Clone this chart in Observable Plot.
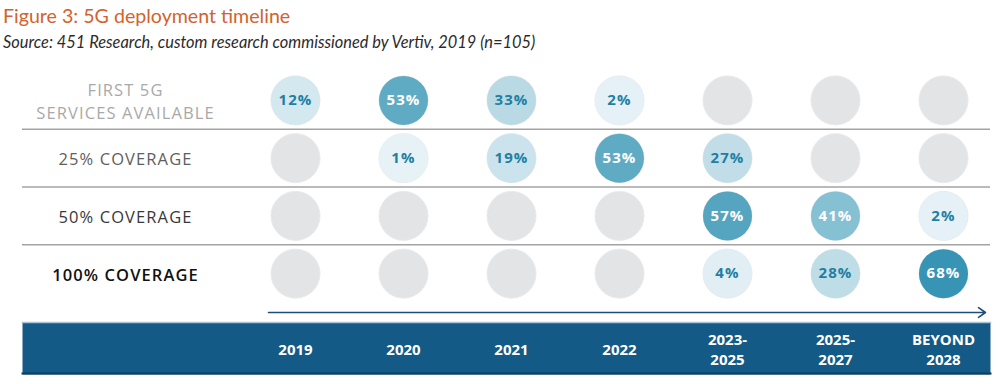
<!DOCTYPE html>
<html>
<head>
<meta charset="utf-8">
<script src="https://cdn.jsdelivr.net/npm/d3@7"></script>
<script src="https://cdn.jsdelivr.net/npm/@observablehq/plot@0.6"></script>
<style>
  html, body { margin: 0; padding: 0; background: #fff; }
  #chart { width: 1000px; position: relative; }
  #header { position: relative; height: 60px; }
  #title { position: absolute; left: 3px; top: 5px; font-family: Lato, "Open Sans", sans-serif; font-size: 19.6px; line-height: 22px; color: #d2622e; white-space: nowrap; }
  #subtitle { position: absolute; left: 3px; top: 33px; font-family: Lato, "Open Sans", sans-serif; font-style: italic; font-size: 16.4px; line-height: 18px; color: #2b2b2b; white-space: nowrap; }
  #chart svg { display: block; }
</style>
</head>
<body>
<div id="chart">
  <div id="header">
    <div id="title">Figure 3: 5G deployment timeline</div>
    <div id="subtitle">Source: 451 Research, custom research commissioned by Vertiv, 2019 (n=105)</div>
  </div>
</div>
<script>
// ---- data ----
const cols = ["2019", "2020", "2021", "2022", "2023-2025", "2025-2027", "BEYOND 2028"];
const colLabels = ["2019", "2020", "2021", "2022", "2023-\n2025", "2025-\n2027", "BEYOND\n2028"];
const rowLabels = ["FIRST 5G\nSERVICES AVAILABLE", "25% COVERAGE", "50% COVERAGE", "100% COVERAGE"];
const firstServices = [12, 53, 33, 2, null, null, null];
const coverage25 = [null, 1, 19, 53, 27, null, null];
const coverage50 = [null, null, null, null, 57, 41, 2];
const coverage100 = [null, null, null, null, 4, 28, 68];

// ---- styles ----
const rowLabelColors = ["#a9a9a9", "#5e5e5e", "#383838", "#111111"];
const emptyFill = "#e3e4e6";
const lightText = "#1f7fa3";
const bandBlue = "#145a86";

const rowValues = [firstServices, coverage25, coverage50, coverage100];
const cells = rowValues.flatMap((vals, r) => vals.map((v, c) => ({row: r, col: cols[c], value: v})));
const filled = cells.filter(d => d.value != null);
const separators = d3.range(rowLabels.length - 1).map(i => i + 0.5);

const font = "'Open Sans', sans-serif";

const main = Plot.plot({
  width: 1000,
  height: 244,
  marginLeft: 22,
  marginRight: 10,
  marginTop: 11,
  marginBottom: 2,
  style: {fontFamily: font, background: "white"},
  x: {type: "band", domain: cols, range: [238, 1000], padding: 0, axis: null},
  y: {domain: [-0.5, rowLabels.length - 0.5], range: [11, 242], axis: null},
  color: {type: "linear", domain: [0, 12, 33, 41, 55, 68],
          range: ["#e8f3f7", "#d4e8ef", "#b9dae5", "#86c0d3", "#5aa7c2", "#3794b5"]},
  marks: [
    Plot.ruleY(separators, {stroke: "#a3a3a3", strokeWidth: 1.6}),
    Plot.dot(cells, {x: "col", y: "row", r: 24.5, fill: emptyFill, stroke: "#e9eaec", strokeWidth: 1}),
    Plot.dot(filled, {x: "col", y: "row", r: 24.5, fill: "value"}),
    Plot.text(filled.filter(d => d.value < 40), {x: "col", y: "row", text: d => d.value + "%", fill: lightText, fontSize: 15, fontWeight: 700}),
    Plot.text(filled.filter(d => d.value >= 40), {x: "col", y: "row", text: d => d.value + "%", fill: "white", fontSize: 15, fontWeight: 700}),
    ...rowLabels.map((label, i) => Plot.text([label], {
      y: () => i, text: d => d, frameAnchor: "left", dx: 103, textAnchor: "middle",
      fill: rowLabelColors[i], fontSize: 16.5, fontWeight: i === 3 ? 600 : 500, lineHeight: 1.35
    }))
  ]
});
d3.select(main).selectAll("text").filter(function() { return this.getAttribute("font-size") !== "15"; }).style("letter-spacing", "1.1px");

const axis = Plot.plot({
  width: 1000,
  height: 80,
  marginLeft: 22,
  marginRight: 10,
  marginTop: 0,
  marginBottom: 0,
  style: {fontFamily: font, background: "white"},
  x: {type: "band", domain: cols, range: [238, 1000], padding: 0, axis: null},
  y: {type: "point", domain: ["arrow", "band"], range: [7.5, 44], padding: 0, axis: null},
  marks: [
    Plot.arrow([0], {x1: () => cols[0], x2: () => cols[cols.length - 1], y1: () => "arrow", y2: () => "arrow",
      insetStart: -27, insetEnd: -42, stroke: "#1d4f7a", strokeWidth: 1.6, headLength: 8, headAngle: 70}),
    Plot.frame({fill: bandBlue, insetTop: 18, insetBottom: 10}),
    Plot.frame({anchor: "top", stroke: "#a9c2d4", strokeWidth: 1.5, insetTop: 18}),
    Plot.frame({anchor: "bottom", stroke: "#0d3d5f", strokeWidth: 2, insetBottom: 11}),
    Plot.text(cols, {x: d => d, y: () => "band", text: (d, i) => colLabels[i], fill: "white", fontSize: 15, fontWeight: 700, lineHeight: 1.35})
  ]
});

document.getElementById("chart").append(main, axis);
</script>
</body>
</html>
